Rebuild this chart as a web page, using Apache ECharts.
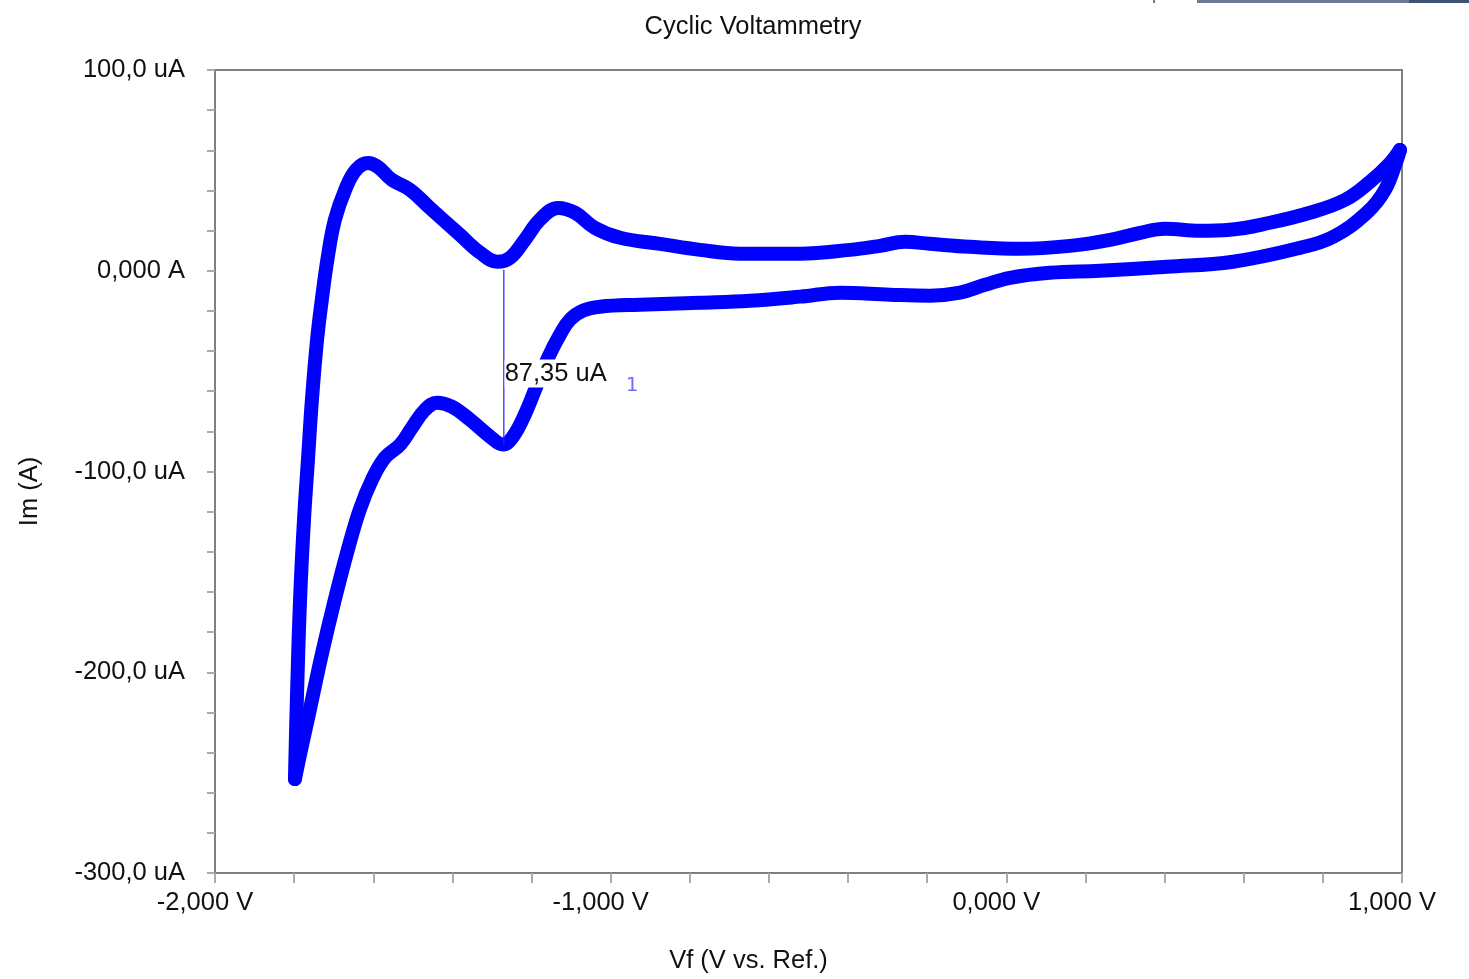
<!DOCTYPE html>
<html>
<head>
<meta charset="utf-8">
<script src="https://cdn.jsdelivr.net/npm/echarts@6/dist/echarts.min.js"></script>
<style>html,body{margin:0;padding:0;background:#fff}#c{width:1469px;height:979px}</style>
</head>
<body>
<div id="c"></div>
<script>
// Potential (V) and current (uA), forward (upper) branch from the cathodic vertex
const upperV = [-1.798,-1.793,-1.785,-1.775,-1.765,-1.755,-1.742,-1.730,-1.714,-1.697,-1.671,-1.644,-1.613,-1.588,-1.553,-1.507,-1.457,-1.381,-1.330,-1.287,-1.254,-1.217,-1.179,-1.133,-1.090,-1.040,-0.976,-0.875,-0.774,-0.673,-0.521,-0.395,-0.319,-0.256,-0.193,-0.092,0.035,0.161,0.262,0.338,0.401,0.489,0.565,0.666,0.767,0.856,0.919,0.970,0.995];
const upperI = [-253.2,-213.4,-163.7,-123.9,-94.0,-64.2,-34.3,-14.4,8.0,25.4,40.3,50.2,53.7,51.7,45.3,40.3,31.3,17.9,9.0,4.5,6.5,15.4,25.4,31.3,28.9,21.4,16.4,13.4,10.4,8.5,8.5,10.4,12.4,14.4,13.4,11.9,10.9,12.4,15.4,18.9,20.9,19.9,20.4,23.9,28.9,35.3,44.3,53.7,60.2];
// Reverse (lower) branch from the anodic vertex back to the cathodic vertex
const lowerV = [0.995,0.987,0.957,0.911,0.826,0.742,0.573,0.406,0.237,0.110,0.009,-0.054,-0.117,-0.193,-0.294,-0.420,-0.521,-0.648,-0.774,-0.926,-1.027,-1.070,-1.103,-1.128,-1.158,-1.186,-1.217,-1.247,-1.272,-1.305,-1.356,-1.401,-1.439,-1.469,-1.502,-1.532,-1.570,-1.603,-1.634,-1.664,-1.697,-1.730,-1.760,-1.785,-1.798];
const lowerI = [60.2,55.2,40.3,28.9,16.9,11.4,4.5,2.0,0.0,-1.0,-3.5,-7.0,-10.9,-12.4,-11.9,-10.9,-12.9,-14.9,-15.9,-16.9,-17.9,-19.9,-24.4,-31.8,-43.3,-56.7,-71.6,-82.6,-86.6,-82.6,-74.1,-67.7,-65.7,-69.2,-78.1,-86.6,-93.0,-104.0,-118.9,-138.8,-163.7,-191.0,-218.4,-240.8,-253.2];
// Peak-height annotation
const markerV = [-1.270, -1.270];
const markerI = [0.5, -86.85];
const markerText = '87,35 uA';
const markerTextPos = [-1.268, -51.2];
const curveTag = '1';
const curveTagPos = [-0.946, -57.5];

const upperData = upperV.map((v,i)=>[v, upperI[i]]);
const lowerData = lowerV.map((v,i)=>[v, lowerI[i]]);
const markerData = markerV.map((v,i)=>[v, markerI[i]]);

const font = '"Liberation Sans", Arial, sans-serif';
const fs = 25.5;
const isMult = (v, m) => Math.abs(v/m - Math.round(v/m)) < 1e-6;

const chart = echarts.init(document.getElementById('c'));
chart.setOption({
  animation: false,
  backgroundColor: '#fff',
  title: {
    text: 'Cyclic Voltammetry', left: 748, top: 9, textAlign: 'center',
    textStyle: {fontFamily: font, fontSize: fs, fontWeight: 'normal', color: '#111'}
  },
  grid: {left: 215, top: 70, right: 67, bottom: 104, show: true, borderColor: '#808080', borderWidth: 2, backgroundColor: 'transparent'},
  xAxis: {
    type: 'value', min: -2, max: 1, interval: 0.2,
    name: 'Vf (V vs. Ref.)', nameLocation: 'middle', nameGap: 75,
    nameTextStyle: {fontFamily: font, fontSize: fs, color: '#111', padding: [0, 120, 0, 0]},
    axisLine: {onZero: false, lineStyle: {color: '#808080', width: 2}},
    axisTick: {show: true, length: 10, lineStyle: {color: '#aaaaaa', width: 2}},
    splitLine: {show: false},
    axisLabel: {
      margin: 17, fontFamily: font, fontSize: fs, color: '#111', padding: [0, 20, 0, 0],
      formatter: v => isMult(v, 1) ? (v.toFixed(3).replace('.', ',') + ' V') : ''
    }
  },
  yAxis: {
    type: 'value', min: -300, max: 100, interval: 20,
    name: 'Im (A)', nameLocation: 'middle', nameGap: 172, nameRotate: 90,
    nameTextStyle: {fontFamily: font, fontSize: fs, color: '#111', padding: [0, 40, 0, 0]},
    axisLine: {show: true, onZero: false, lineStyle: {color: '#808080', width: 2}},
    axisTick: {show: true, length: 8, lineStyle: {color: '#aaaaaa', width: 2}},
    splitLine: {show: false},
    axisLabel: {
      margin: 30, fontFamily: font, fontSize: fs, color: '#111',
      formatter: v => !isMult(v, 100) ? '' : (Math.abs(v) < 1e-9 ? '0,000 A' : v.toFixed(1).replace('.', ',') + ' uA')
    }
  },
  series: [
    {type: 'line', data: upperData, smooth: 0.4, showSymbol: false, lineStyle: {color: '#0000ff', width: 14, cap: 'round', join: 'round'}, z: 2},
    {type: 'line', data: lowerData, smooth: 0.4, showSymbol: false, lineStyle: {color: '#0000ff', width: 14, cap: 'round', join: 'round'}, z: 2},
    {type: 'line', data: markerData, showSymbol: false, lineStyle: {color: '#2222ff', width: 1.2}, z: 3},
    {type: 'scatter', data: [markerTextPos], symbolSize: 0, z: 5, itemStyle: {opacity: 1},
     label: {show: true, position: 'right', distance: 0, formatter: markerText, fontFamily: font, fontSize: fs, color: '#111', backgroundColor: '#fff', padding: [1, 2, 1, 0]}},
    {type: 'scatter', data: [curveTagPos], symbolSize: 0, z: 5, itemStyle: {opacity: 1},
     label: {show: true, position: 'inside', formatter: curveTag, fontFamily: '"DejaVu Sans", sans-serif', fontSize: 20, color: '#6f6fff'}}
  ],
  graphic: [
    {type: 'rect', shape: {x: 1197, y: 0, width: 212, height: 3}, style: {fill: '#6b7896'}},
    {type: 'rect', shape: {x: 1409, y: 0, width: 60, height: 3}, style: {fill: '#3f5273'}},
    {type: 'rect', shape: {x: 1153, y: 0, width: 2, height: 3}, style: {fill: '#6b7896'}}
  ]
});
</script>
</body>
</html>
